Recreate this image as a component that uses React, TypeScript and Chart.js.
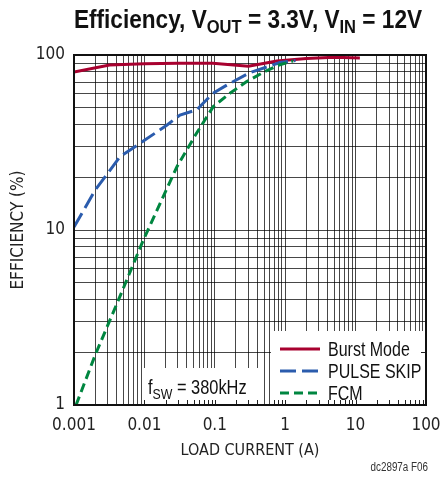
import React, { useEffect, useRef } from "react";
import { Chart, registerables } from "chart.js";

Chart.register(...registerables);

// ---- Data ----
const loadCurrentTickLabels = ["0.001", "0.01", "0.1", "1", "10", "100"];
const loadCurrentDecades = [0.001, 0.01, 0.1, 1, 10, 100];
const efficiencyTickLabels = ["1", "10", "100"];
const efficiencyDecades = [1, 10, 100];

const burstCurrent = [0.001, 0.0032, 0.01, 0.03, 0.094, 0.3, 0.76, 2, 5, 11.5];
const burstEff = [80, 87.7, 89, 89.6, 89.6, 86.3, 92.5, 95.5, 97, 96];

const pulseCurrent = [0.001, 0.002, 0.0045, 0.0087, 0.021, 0.032, 0.055, 0.094, 0.164, 0.32, 0.84, 1.4];
const pulseEff = [10.4, 16.9, 26.2, 31.3, 39.8, 45.4, 48.5, 60.4, 68.9, 79.5, 90.5, 93];

const fcmCurrent = [0.00107, 0.002, 0.0043, 0.0097, 0.029, 0.055, 0.095, 0.164, 0.284, 0.5, 0.84, 1.3];
const fcmEff = [1.0, 1.93, 4.0, 8.8, 23, 35.7, 50.7, 60.4, 70.5, 80, 88, 92.5];

const seriesNames = ["Burst Mode", "PULSE SKIP", "FCM"];

const AXIS_FONT = '"DejaVu Sans Condensed", "Liberation Sans", Arial, sans-serif';
const TEXT_FONT = '"Liberation Sans", Arial, sans-serif';
const RED = "#a8002f";
const BLUE = "#2b5cad";
const GREEN = "#008640";
const BLUE_DASH = [16, 6];
const GREEN_DASH = [9, 5];

function minorTicks(decades: number[]): number[] {
  const out: number[] = [];
  for (let i = 0; i < decades.length - 1; i++) {
    for (let m = 1; m <= 9; m++) out.push(+(m * decades[i]).toPrecision(6));
  }
  out.push(decades[decades.length - 1]);
  return out;
}

function decadeLabel(v: number, decades: number[], labels: string[]): string {
  for (let i = 0; i < decades.length; i++) {
    if (Math.abs(Math.log10(v) - Math.log10(decades[i])) < 1e-6) return labels[i];
  }
  return "";
}

type Seg = { t: string; sub?: boolean };

// draws condensed text segments (with subscripts)
function drawSegs(
  ctx: CanvasRenderingContext2D,
  segs: Seg[],
  x: number,
  y: number,
  size: number,
  subSize: number,
  subDrop: number,
  bold: boolean,
  align: "left" | "center" | "right",
  sx: number
) {
  const fontOf = (s: Seg) => `${bold ? "bold " : ""}${s.sub ? subSize : size}px ${TEXT_FONT}`;
  let total = 0;
  segs.forEach((s) => {
    ctx.font = fontOf(s);
    total += ctx.measureText(s.t).width;
  });
  const start = align === "center" ? x - (total * sx) / 2 : align === "right" ? x - total * sx : x;
  ctx.save();
  ctx.translate(start, y);
  ctx.scale(sx, 1);
  ctx.textBaseline = "alphabetic";
  ctx.textAlign = "left";
  let cx = 0;
  segs.forEach((s) => {
    ctx.font = fontOf(s);
    ctx.fillText(s.t, cx, s.sub ? subDrop : 0);
    cx += ctx.measureText(s.t).width;
  });
  ctx.restore();
}

const decorPlugin = {
  id: "decor",
  afterDatasetsDraw(chart: any) {
    const ctx: CanvasRenderingContext2D = chart.ctx;
    const { left, right, top, bottom } = chart.chartArea;
    const xs = chart.scales.x;
    const ys = chart.scales.y;
    ctx.save();

    // annotation box
    const annL = 142, annR = 258, annT = 368;
    ctx.fillStyle = "#ffffff";
    ctx.fillRect(annL, annT, annR - annL, bottom - annT);
    // legend box
    const legL = 271, legT = 331;
    ctx.fillRect(legL, legT, right - legL, bottom - legT);

    // inward ticks over boxes
    ctx.strokeStyle = "#222";
    ctx.lineWidth = 1;
    minorTicks(loadCurrentDecades).forEach((v) => {
      const px = Math.round(xs.getPixelForValue(v)) + 0.5;
      if ((px > annL && px < annR) || (px > legL && px < right)) {
        ctx.beginPath();
        ctx.moveTo(px, bottom);
        ctx.lineTo(px, bottom - 5);
        ctx.stroke();
      }
    });
    minorTicks(efficiencyDecades).forEach((v) => {
      const py = Math.round(ys.getPixelForValue(v)) + 0.5;
      if (py > legT && py < bottom) {
        ctx.beginPath();
        ctx.moveTo(right, py);
        ctx.lineTo(right - 5, py);
        ctx.stroke();
      }
    });

    // annotation text
    ctx.fillStyle = "#111";
    drawSegs(ctx, [{ t: "f" }, { t: "SW", sub: true }, { t: " = 380kHz" }], 148, 394, 20, 15, 5, false, "left", 0.82);

    // legend
    const rows = [
      { name: seriesNames[0], color: RED, dash: [] as number[] },
      { name: seriesNames[1], color: BLUE, dash: BLUE_DASH },
      { name: seriesNames[2], color: GREEN, dash: GREEN_DASH },
    ];
    rows.forEach((r, i) => {
      const y = 349 + i * 22;
      ctx.strokeStyle = r.color;
      ctx.lineWidth = 3;
      ctx.setLineDash(r.dash);
      ctx.beginPath();
      ctx.moveTo(280, y);
      ctx.lineTo(320, y);
      ctx.stroke();
      ctx.setLineDash([]);
      ctx.fillStyle = "#111";
      drawSegs(ctx, [{ t: r.name }], 328, y + 7, 20, 15, 0, false, "left", 0.8);
    });

    // frame
    ctx.strokeStyle = "#111";
    ctx.lineWidth = 2;
    ctx.strokeRect(left, top, right - left, bottom - top);
    ctx.restore();
  },
  afterDraw(chart: any) {
    const ctx: CanvasRenderingContext2D = chart.ctx;
    ctx.save();
    ctx.fillStyle = "#111";
    drawSegs(
      ctx,
      [
        { t: "Efficiency, V" },
        { t: "OUT", sub: true },
        { t: " = 3.3V, V" },
        { t: "IN", sub: true },
        { t: " = 12V" },
      ],
      248,
      28,
      26,
      19,
      5,
      true,
      "center",
      0.87
    );
    ctx.fillStyle = "#333";
    drawSegs(ctx, [{ t: "dc2897a F06" }], 428, 471, 12, 10, 0, false, "right", 0.82);
    ctx.restore();
  },
};

export default function App() {
  const ref = useRef<HTMLCanvasElement | null>(null);

  useEffect(() => {
    document.body.style.margin = "0";
    const canvas = ref.current;
    if (!canvas) return;
    const mk = (xs: number[], ys: number[]) => xs.map((x, i) => ({ x, y: ys[i] }));
    const chart = new Chart(canvas, {
      type: "line",
      data: {
        datasets: [
          {
            label: seriesNames[2],
            data: mk(fcmCurrent, fcmEff),
            borderColor: GREEN,
            borderWidth: 3,
            borderDash: GREEN_DASH,
            pointRadius: 0,
            tension: 0,
            fill: false,
          },
          {
            label: seriesNames[1],
            data: mk(pulseCurrent, pulseEff),
            borderColor: BLUE,
            borderWidth: 3,
            borderDash: BLUE_DASH,
            pointRadius: 0,
            tension: 0,
            fill: false,
          },
          {
            label: seriesNames[0],
            data: mk(burstCurrent, burstEff),
            borderColor: RED,
            borderWidth: 3,
            pointRadius: 0,
            tension: 0,
            fill: false,
          },
        ],
      },
      options: {
        animation: false,
        responsive: false,
        devicePixelRatio: 1,
        layout: { padding: { top: 55, right: 14, left: 0, bottom: 0 } },
        plugins: { legend: { display: false }, title: { display: false }, tooltip: { enabled: false } },
        scales: {
          x: {
            type: "logarithmic",
            min: 0.001,
            max: 100,
            afterBuildTicks: (s: any) => {
              s.ticks = minorTicks(loadCurrentDecades).map((v) => ({ value: v }));
            },
            afterFit: (s: any) => {
              s.height = 72;
              s.paddingLeft = 0;
              s.paddingRight = 0;
            },
            ticks: {
              autoSkip: false,
              maxRotation: 0,
              padding: 10,
              color: "#222",
              font: { family: AXIS_FONT, size: 17 },
              callback: (v: any) => decadeLabel(Number(v), loadCurrentDecades, loadCurrentTickLabels),
            },
            grid: { color: "rgba(0,0,0,0.72)", lineWidth: 1, drawTicks: false },
            border: { display: false },
            title: {
              display: true,
              text: "LOAD CURRENT (A)",
              color: "#222",
              font: { family: AXIS_FONT, size: 16 },
              padding: { top: 0, bottom: 17 },
            },
          },
          y: {
            type: "logarithmic",
            min: 1,
            max: 100,
            afterBuildTicks: (s: any) => {
              s.ticks = minorTicks(efficiencyDecades).map((v) => ({ value: v }));
            },
            afterFit: (s: any) => {
              s.width = 74;
              s.paddingTop = 0;
              s.paddingBottom = 0;
            },
            ticks: {
              autoSkip: false,
              padding: 9,
              color: "#222",
              font: { family: AXIS_FONT, size: 17 },
              callback: (v: any) => decadeLabel(Number(v), efficiencyDecades, efficiencyTickLabels),
            },
            grid: { color: "rgba(0,0,0,0.72)", lineWidth: 1, drawTicks: false },
            border: { display: false },
            title: {
              display: true,
              text: "EFFICIENCY (%)",
              color: "#222",
              font: { family: AXIS_FONT, size: 17 },
              padding: { top: 8, bottom: 0 },
            },
          },
        },
      },
      plugins: [decorPlugin],
    } as any);
    return () => chart.destroy();
  }, []);

  return (
    <div style={{ width: 440, height: 477 }}>
      <canvas ref={ref} width={440} height={477} style={{ display: "block" }} />
    </div>
  );
}
